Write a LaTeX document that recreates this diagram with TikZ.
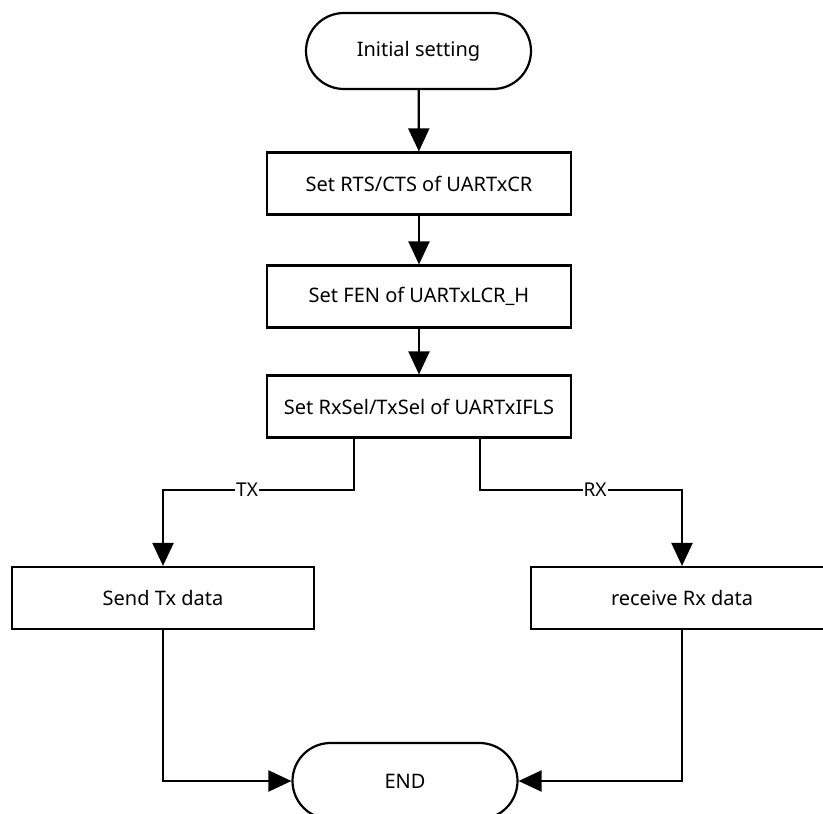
\documentclass[tikz,border=0pt]{standalone}
\usepackage{fontspec}
\setmainfont{Noto Sans}
\usetikzlibrary{shapes.misc,arrows.meta}
\begin{document}
\begin{tikzpicture}[x=1pt,y=-1pt,
  every node/.style={font=\fontsize{20}{24}\selectfont},
  term/.style={draw,line width=2.2pt,rounded rectangle,minimum width=225pt,minimum height=76pt,inner sep=0pt},
  procbox/.style={draw,line width=2.2pt,rectangle,minimum width=304pt,minimum height=62pt,inner sep=0pt},
  sidebox/.style={draw,line width=2.2pt,rectangle,minimum width=302pt,minimum height=62pt,inner sep=0pt},
  conn/.style={line width=2.2pt},
  arr/.style={conn,-{Triangle[length=23pt,width=21pt]}},
  lbl/.style={fill=white,inner sep=1pt,font=\fontsize{19}{22}\selectfont}]
\useasboundingbox (0,0) rectangle (823,814);
\clip (0,0) rectangle (823,814);
\node[term] (init) at (418.5,51) {Initial setting};
\node[procbox] (b1) at (419,183.5) {Set RTS/CTS of UARTxCR};
\node[procbox] (b2) at (419,296.5) {Set FEN of UARTxLCR\_H};
\node[procbox] (b3) at (419,406.5) {Set RxSel/TxSel of UARTxIFLS};
\node[sidebox] (b4) at (163,598) {Send Tx data};
\node[sidebox] (b5) at (682,598) {receive Rx data};
\node[term] (end) at (405,781) {END};
\coordinate (tsplit) at (354,490);
\coordinate (rsplit) at (480,490);
\draw[arr] (init) -- (b1);
\draw[arr] (b1) -- (b2);
\draw[arr] (b2) -- (b3);
\draw[arr] (b3.south -| tsplit) -- (tsplit) -| node[lbl,pos=0.28] {TX} (b4.north);
\draw[arr] (b3.south -| rsplit) -- (rsplit) -| node[lbl,pos=0.285] {RX} (b5.north);
\draw[arr] (b4.south) |- (end.west);
\draw[arr] (b5.south) |- (end.east);
\end{tikzpicture}
\end{document}
